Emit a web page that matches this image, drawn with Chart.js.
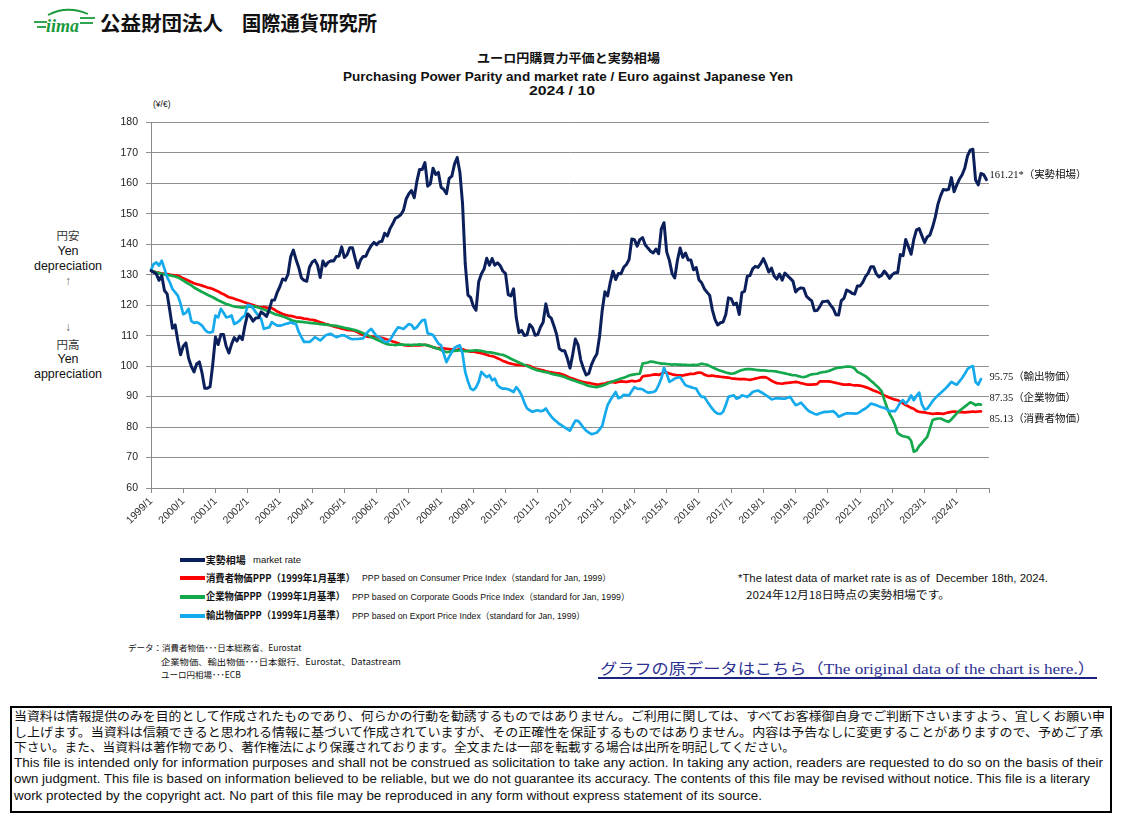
<!DOCTYPE html>
<html><head><meta charset="utf-8">
<script src="https://cdn.jsdelivr.net/npm/chart.js@4/dist/chart.umd.min.js"></script>
<style>
html,body{margin:0;padding:0;background:#fff;}
body{width:1123px;height:822px;position:relative;overflow:hidden;font-family:"Liberation Sans","Noto Sans CJK JP",sans-serif;color:#111;}
.t{position:absolute;white-space:nowrap;line-height:1;transform-origin:0 50%;}
.jp{font-family:"Noto Sans CJK JP",sans-serif;}
.c{position:absolute;left:8px;width:120px;text-align:center;white-space:nowrap;line-height:1;}
#chartWrap{position:absolute;left:0;top:108px;width:1123px;height:432px;}
.sw{position:absolute;left:180px;width:25px;height:4px;}
#box{position:absolute;left:10px;top:706px;width:1102px;height:107px;box-sizing:border-box;border:2px solid #000;}
</style></head>
<body>
<svg style="position:absolute;left:33px;top:4px" width="64" height="34" viewBox="0 0 64 34">
  <path d="M15 11 Q34 1 55 10" stroke="#1a9a3c" stroke-width="1.8" fill="none"/>
  <line x1="1" y1="18" x2="14" y2="18" stroke="#1a9a3c" stroke-width="1.8"/>
  <line x1="4" y1="23" x2="13" y2="23" stroke="#1a9a3c" stroke-width="1.8"/>
  <line x1="47" y1="14" x2="62" y2="14" stroke="#1a9a3c" stroke-width="1.8"/>
  <line x1="47" y1="19" x2="60" y2="19" stroke="#1a9a3c" stroke-width="1.8"/>
  <text x="13" y="28" font-family="Liberation Serif" font-style="italic" font-weight="bold" font-size="18" fill="#1a9a3c">iima</text>
</svg>
<div class="t jp" data-w="123" style="left:100px;top:13px;font-size:20px;font-weight:700;">公益財団法人</div>
<div class="t jp" data-w="135" style="left:241.7px;top:13px;font-size:20px;font-weight:700;">国際通貨研究所</div>

<div class="t jp" data-w="183" style="left:477px;top:52px;font-size:12.5px;font-weight:700;">ユーロ円購買力平価と実勢相場</div>
<div class="t" data-w="450" style="left:343px;top:69.5px;font-size:13.5px;font-weight:700;">Purchasing Power Parity and market rate / Euro against Japanese Yen</div>
<div class="t" data-w="66" style="left:529.3px;top:84.5px;font-size:12.5px;font-weight:700;">2024 / 10</div>

<div class="t" style="left:153px;top:99.5px;font-size:8.5px;">(¥/€)</div>

<div class="c jp" style="top:230px;font-size:11.5px;color:#333;">円安</div>
<div class="c" style="top:245px;font-size:12.5px;">Yen</div>
<div class="c" style="top:259.5px;font-size:12.5px;">depreciation</div>
<div class="c" style="top:274.5px;font-size:12px;color:#666;">↑</div>
<div class="c" style="top:320.5px;font-size:12px;color:#666;">↓</div>
<div class="c jp" style="top:338.5px;font-size:11.5px;color:#333;">円高</div>
<div class="c" style="top:353px;font-size:12.5px;">Yen</div>
<div class="c" style="top:367.5px;font-size:12.5px;">appreciation</div>

<div id="chartWrap"><canvas id="c" width="1123" height="432"></canvas></div>

<div class="sw" style="top:558.3px;background:#0b1f5b;"></div>
<div class="sw" style="top:576.3px;background:#ff0000;"></div>
<div class="sw" style="top:594.7px;background:#13a84b;"></div>
<div class="sw" style="top:613.7px;background:#14aaec;"></div>
<div class="t jp" data-w="40" style="left:205.7px;top:554.5px;font-size:10px;font-weight:700;">実勢相場</div>
<div class="t" data-w="48" style="left:253px;top:556px;font-size:9px;">market rate</div>
<div class="t jp" data-w="149" style="left:205.7px;top:572.5px;font-size:10px;font-weight:700;">消費者物価PPP（1999年1月基準）</div>
<div class="t" data-w="249" style="left:361.7px;top:574px;font-size:9px;">PPP based on Consumer Price Index（standard for Jan, 1999）</div>
<div class="t jp" data-w="139" style="left:205.7px;top:591px;font-size:10px;font-weight:700;">企業物価PPP（1999年1月基準）</div>
<div class="t" data-w="277.7" style="left:351.7px;top:592.5px;font-size:9px;">PPP based on Corporate Goods Price Index（standard for Jan, 1999）</div>
<div class="t jp" data-w="139" style="left:205.7px;top:610px;font-size:10px;font-weight:700;">輸出物価PPP（1999年1月基準）</div>
<div class="t" data-w="233" style="left:351.7px;top:611.5px;font-size:9px;">PPP based on Export Price Index（standard for Jan, 1999）</div>

<div class="t" data-w="310" style="left:738.3px;top:573px;font-size:10.5px;">*The latest data of market rate is as of&nbsp; December 18th, 2024.</div>
<div class="t jp" data-w="204" style="left:746px;top:589px;font-size:11px;">2024年12月18日時点の実勢相場です。</div>

<div class="t jp" style="left:128px;top:643px;font-size:8.5px;">データ：消費者物価･･･日本総務省、Eurostat</div>
<div class="t jp" data-w="240" style="left:161px;top:657px;font-size:8.5px;">企業物価、輸出物価･･･日本銀行、Eurostat、Datastream</div>
<div class="t jp" style="left:161px;top:670px;font-size:8.5px;">ユーロ円相場･･･ECB</div>

<div class="t" data-w="495" style="left:600px;top:661.5px;font-size:15px;font-family:'Liberation Serif','Noto Sans CJK JP',serif;color:#2e3192;">グラフの原データはこちら（The original data of the chart is here.）</div>
<div style="position:absolute;left:598px;top:676.5px;width:499px;height:2px;background:#1a237e;"></div>

<div id="box"></div>
<div class="t jp" data-w="1091" style="left:14px;top:709.5px;font-size:12.5px;">当資料は情報提供のみを目的として作成されたものであり、何らかの行動を勧誘するものではありません。ご利用に関しては、すべてお客様御自身でご判断下さいますよう、宜しくお願い申</div>
<div class="t jp" data-w="1089" style="left:14px;top:725.5px;font-size:12.5px;">し上げます。当資料は信頼できると思われる情報に基づいて作成されていますが、その正確性を保証するものではありません。内容は予告なしに変更することがありますので、予めご了承</div>
<div class="t jp" data-w="781" style="left:14px;top:740.5px;font-size:12.5px;">下さい。また、当資料は著作物であり、著作権法により保護されております。全文または一部を転載する場合は出所を明記してください。</div>
<div class="t" data-w="1089" style="left:14px;top:757px;font-size:12px;">This file is intended only for information purposes and shall not be construed as solicitation to take any action. In taking any action, readers are requested to do so on the basis of their</div>
<div class="t" data-w="1076" style="left:14px;top:773px;font-size:12px;">own judgment. This file is based on information believed to be reliable, but we do not guarantee its accuracy. The contents of this file may be revised without notice. This file is a literary</div>
<div class="t" data-w="748" style="left:14px;top:790px;font-size:12px;">work protected by the copyright act. No part of this file may be reproduced in any form without express statement of its source.</div>

<script>
// ---- data ----
const startYear = 1999;
const monthCount = 313; // 1999/1 .. 2025/1 (axis end)
const yTickMin = 60, yTickMax = 180, yTickStep = 10;

const marketRate = [
131.32,130.78,130.20,128.16,129.71,124.81,123.71,118.21,112.41,113.50,108.25,103.72,
106.53,107.64,102.59,99.92,98.09,100.70,101.39,97.77,92.74,92.72,93.26,100.61,
109.57,107.08,110.33,110.36,106.50,104.30,107.21,109.34,108.20,109.86,108.68,113.38,
117.12,116.23,114.75,115.81,115.86,117.80,117.11,116.31,118.38,121.57,121.65,124.20,
126.12,128.60,128.16,130.12,135.83,138.05,134.99,132.38,128.94,128.12,127.84,132.43,
134.13,134.78,133.13,129.08,134.48,132.86,134.08,134.54,134.51,135.97,136.09,139.14,
135.63,136.55,138.83,138.84,135.37,132.22,134.75,135.98,136.06,138.05,139.59,140.58,
139.82,140.77,140.96,143.59,142.70,145.11,146.70,148.53,148.99,149.65,151.11,154.82,
156.56,157.60,155.24,160.68,164.55,164.55,166.76,159.05,159.82,164.95,162.89,163.55,
158.68,157.97,156.59,161.56,162.31,166.26,168.45,163.63,153.20,133.52,123.28,122.51,
119.73,118.30,127.65,130.25,131.85,135.39,133.09,135.31,133.14,133.91,132.97,131.21,
130.34,123.46,123.03,125.33,115.83,110.99,111.73,110.04,110.26,113.67,112.69,110.11,
110.38,112.77,114.40,120.42,116.47,115.75,113.26,110.43,105.75,105.06,105.02,102.55,
99.33,103.77,108.88,107.00,101.97,99.26,97.07,97.58,100.49,102.47,103.94,109.71,
118.34,124.40,122.99,127.54,131.13,128.40,130.39,130.34,132.41,133.32,134.97,141.68,
141.47,139.35,141.48,142.18,139.81,138.72,137.72,137.11,138.39,136.85,145.03,147.06,
137.47,134.69,130.41,128.94,134.75,138.74,135.68,137.12,134.85,134.84,131.60,132.36,
128.32,127.35,125.39,124.29,123.21,118.45,115.25,113.49,114.22,114.47,116.93,122.39,
122.14,120.17,120.68,116.93,124.09,124.58,129.48,129.70,131.92,132.76,132.39,133.64,
135.25,133.29,130.86,132.16,129.57,128.53,130.23,128.20,130.54,129.62,128.79,127.88,
124.34,125.28,125.67,125.44,122.97,122.08,121.41,118.18,118.24,119.51,121.10,121.24,
121.36,120.03,118.90,116.86,116.78,121.45,122.22,124.97,124.54,123.89,123.61,126.28,
126.31,127.49,129.38,130.49,132.57,132.63,130.35,129.28,129.77,131.21,130.12,128.80,
130.01,130.66,130.71,136.61,136.24,141.57,139.17,136.71,141.57,144.73,145.12,142.82,
140.54,142.38,143.00,145.62,148.87,153.15,155.94,157.96,157.80,158.04,161.84,157.21,
159.46,161.38,162.77,165.03,168.98,170.87,171.17,161.05,159.48,163.20,162.85,161.21
];

const cpiPPP = [
131.3,131.0,130.8,130.6,130.4,130.3,130.2,130.0,129.9,129.8,129.6,129.3,
128.8,128.4,128.0,127.6,127.2,126.9,126.7,126.4,126.1,125.8,125.6,125.3,
124.9,124.5,124.0,123.6,123.1,122.6,122.4,122.1,121.8,121.5,121.2,120.9,
120.6,120.3,120.0,119.7,119.4,119.3,119.4,119.2,119.1,119.0,118.5,117.9,
117.5,117.1,116.8,116.6,116.5,116.3,116.0,115.9,115.8,115.6,115.5,115.3,
115.2,115.0,114.7,114.4,114.1,113.8,113.6,113.3,113.0,112.8,112.6,112.3,
112.1,111.9,111.8,111.7,111.5,111.1,110.6,110.2,109.8,109.6,109.7,109.6,
109.5,109.4,109.3,109.0,108.7,108.4,108.1,107.8,107.5,107.2,106.9,106.8,
106.7,106.8,106.9,106.8,106.8,106.9,107.0,106.8,106.5,106.2,106.0,105.9,
105.9,105.8,105.7,105.6,105.5,105.3,105.2,105.7,105.5,105.2,105.0,104.7,
104.8,104.6,104.4,104.2,104.0,103.7,103.4,103.3,103.0,102.6,102.2,101.7,
101.4,101.0,100.8,100.6,100.4,100.4,100.3,100.1,100.3,100.0,99.6,99.2,
99.0,98.8,98.6,98.3,98.1,98.0,97.8,97.6,97.6,97.3,97.0,96.6,
96.2,95.9,95.6,95.3,95.0,94.8,94.6,94.5,94.3,94.1,93.9,94.0,
94.2,94.3,94.6,94.8,94.7,94.6,94.8,95.0,94.9,94.8,95.0,95.2,
95.0,95.1,95.3,96.6,96.8,96.9,97.0,97.2,97.3,97.1,97.5,98.0,
97.9,97.6,97.3,97.1,97.0,97.0,96.9,97.1,97.3,97.5,97.4,97.7,
97.9,97.8,97.2,96.9,96.8,96.9,96.7,96.6,96.5,96.4,96.3,96.2,
96.0,95.9,95.8,95.7,95.7,95.7,95.6,95.5,95.7,95.9,96.1,96.3,
96.4,96.3,95.8,95.2,94.8,94.4,94.3,94.2,94.4,94.5,94.6,94.7,
94.8,94.7,94.4,94.2,94.0,93.9,93.9,94.0,94.1,95.0,95.0,95.0,
95.0,94.9,94.7,94.5,94.3,94.1,93.9,93.9,94.0,93.8,93.7,93.7,
93.6,93.4,93.1,92.8,92.4,92.0,91.7,91.3,90.9,90.4,90.0,89.6,
89.3,89.0,88.8,88.4,87.8,87.2,86.8,86.3,86.0,85.3,85.0,84.9,
84.8,84.6,84.5,84.3,84.4,84.5,84.4,84.3,84.6,84.8,85.0,85.1,
85.0,84.9,84.9,84.8,84.9,85.0,85.1,85.0,85.1,85.13
];

const cgpiPPP = [
131.3,131.0,130.7,130.5,130.3,130.1,129.9,129.8,129.6,129.4,129.1,128.6,
128.1,127.5,127.0,126.5,125.8,125.3,124.8,124.3,123.9,123.4,123.0,122.6,
122.1,121.6,121.2,120.8,120.4,120.1,119.8,119.6,119.4,119.3,119.2,119.3,
119.4,119.5,119.6,119.5,119.2,118.9,118.6,118.2,117.9,117.5,117.1,116.8,
116.6,116.3,116.0,115.6,115.2,114.9,114.7,114.6,114.5,114.4,114.3,114.2,
114.1,114.0,113.9,113.8,113.7,113.6,113.5,113.4,113.3,113.2,113.0,112.8,
112.6,112.4,112.2,112.0,111.8,111.5,111.2,110.8,110.4,110.0,109.5,109.1,
108.7,108.3,107.9,107.5,107.2,107.0,107.0,106.9,107.0,107.1,107.0,107.0,
107.0,106.9,107.0,107.0,107.1,107.0,107.0,106.8,106.5,106.2,105.9,105.7,
105.3,104.9,104.6,104.7,104.9,105.0,105.1,105.2,105.0,104.9,104.9,105.0,
105.1,105.2,105.1,105.0,104.8,104.6,104.5,104.4,104.2,104.0,103.8,103.7,
103.3,102.9,102.4,102.0,101.6,101.2,100.8,100.4,100.0,99.6,99.2,98.9,
98.6,98.4,98.2,98.0,97.8,97.5,97.3,97.1,96.9,96.7,96.4,96.0,
95.7,95.4,95.1,94.8,94.5,94.2,93.8,93.5,93.3,93.2,93.1,93.3,
93.6,93.9,94.3,94.7,95.0,95.3,95.6,95.9,96.2,96.5,96.9,97.1,
97.3,97.4,97.5,100.8,101.0,101.2,101.5,101.4,101.2,101.0,100.8,100.8,
100.7,100.6,100.5,100.6,100.5,100.5,100.4,100.4,100.3,100.3,100.4,100.3,
100.5,100.8,100.6,100.5,100.0,99.6,99.2,98.8,98.5,98.2,97.9,97.7,
97.5,97.6,98.0,98.4,98.7,98.9,99.0,99.0,98.9,98.8,98.7,98.6,
98.6,98.5,98.4,98.4,98.3,98.2,98.0,97.8,97.6,97.4,97.2,97.0,
97.0,96.7,96.5,96.4,96.6,97.0,97.3,97.4,97.5,97.8,98.0,98.1,
98.3,98.6,99.0,99.3,99.5,99.6,99.7,99.8,99.8,99.7,99.2,98.1,
97.7,97.2,96.7,96.0,95.2,94.5,93.6,92.8,91.8,89.0,86.5,84.3,
82.8,80.7,78.0,77.4,77.0,76.8,76.6,75.5,71.9,72.3,73.8,74.7,
75.8,76.8,79.5,82.3,82.6,82.8,82.8,82.4,82.0,81.7,82.5,83.5,
84.5,85.3,86.0,86.7,87.4,88.1,87.8,87.2,87.5,87.35
];

const exportPPP = [
131.5,133.5,134.0,133.0,134.6,132.0,129.2,127.5,125.3,124.2,123.1,120.5,
117.0,117.5,118.8,114.8,114.2,114.4,114.0,113.3,112.0,111.2,111.0,111.3,
116.6,116.0,118.8,117.5,116.0,116.2,116.6,113.8,114.3,114.9,116.0,116.6,
120.1,119.9,119.0,117.7,116.5,115.5,112.2,112.5,112.7,114.4,113.8,113.3,
113.3,113.5,113.8,114.0,114.4,114.0,113.8,111.2,109.5,107.9,108.0,107.9,
108.6,109.5,109.0,108.4,109.2,110.1,110.4,110.6,110.0,109.5,109.8,110.1,
110.1,109.6,109.1,108.8,108.9,108.9,109.0,109.1,110.5,111.5,112.2,111.0,
109.8,109.5,108.8,108.0,107.9,108.5,110.1,111.5,112.7,112.5,112.2,113.0,
113.8,113.5,112.2,112.8,114.0,115.0,115.2,110.8,110.5,110.2,108.8,107.4,
106.8,104.0,101.3,103.0,104.6,106.0,106.5,106.8,104.0,98.0,95.0,92.6,
92.1,93.0,94.8,98.1,97.2,96.4,97.0,95.3,95.9,93.7,93.0,92.6,
92.6,92.4,92.0,91.5,93.1,92.0,90.4,88.0,86.1,85.5,85.0,85.3,
85.5,85.2,85.4,86.1,84.7,83.5,82.5,81.8,81.0,80.5,79.9,79.3,
78.8,80.5,82.1,82.0,81.0,79.8,78.8,78.2,77.7,77.9,78.2,79.2,
80.4,84.0,87.2,88.8,90.2,91.5,89.5,89.8,90.6,90.5,90.4,91.8,
93.1,92.6,92.5,92.4,91.8,91.3,91.4,91.5,92.0,93.8,95.9,99.4,
97.5,94.8,95.3,95.9,96.2,96.4,95.0,93.7,93.4,93.1,92.8,92.6,
91.0,89.9,89.9,88.5,87.2,86.0,85.0,84.4,84.3,85.0,87.2,89.9,
90.2,90.4,89.3,89.6,90.4,90.2,89.9,90.6,91.5,91.8,92.0,91.5,
91.0,90.4,89.8,89.1,89.3,89.5,89.4,89.3,89.3,89.6,89.9,88.5,
87.2,87.5,88.0,87.0,86.0,85.2,84.8,84.3,84.1,84.5,84.8,85.0,
85.0,85.1,85.2,84.5,83.4,83.8,84.2,84.5,84.5,84.5,84.4,84.5,
85.0,85.6,86.1,86.8,87.7,87.5,87.2,86.8,86.5,86.3,85.8,85.2,
85.2,85.2,86.5,88.2,88.8,87.7,88.8,90.4,88.8,90.2,91.3,87.5,
85.8,86.0,87.2,88.5,89.5,90.4,91.2,92.0,92.8,93.8,94.8,94.3,
93.9,95.0,96.1,97.5,99.0,99.7,100.0,94.8,93.9,95.75
];

const seriesNames = ['実勢相場', '消費者物価', '企業物価', '輸出物価'];

// category labels (months)
const monthLabels = [];
for (let i = 0; i < monthCount; i++) {
  monthLabels.push((startYear + Math.floor(i / 12)) + '/' + (i % 12 + 1));
}

const endLabels = {
  id: 'endLabels',
  afterDatasetsDraw(chart) {
    const {ctx, chartArea, scales} = chart;
    ctx.save();
    ctx.font = '10.5px "Liberation Serif", "Noto Sans CJK JP", serif';
    ctx.fillStyle = '#111';
    ctx.textBaseline = 'middle';
    ctx.textAlign = 'left';
    chart.data.datasets.forEach(ds => {
      const v = ds.data[ds.data.length - 1];
      const y = scales.y.getPixelForValue(v) + ds.endOffset;
      ctx.fillText(v.toFixed(2) + ds.endSuffix, chartArea.right + 0.5, y);
    });
    ctx.restore();
  }
};

const tickFont = {family: '"Liberation Sans", sans-serif', size: 10.5};

new Chart(document.getElementById('c'), {
  type: 'line',
  data: {
    labels: monthLabels,
    datasets: [
      {label: seriesNames[0], data: marketRate, borderColor: '#0b1f5b', borderWidth: 3, order: 1, endSuffix: '*（実勢相場）', endOffset: -4.5},
      {label: seriesNames[1], data: cpiPPP, borderColor: '#ff0000', borderWidth: 2.7, order: 4, endSuffix: '（消費者物価）', endOffset: 8},
      {label: seriesNames[2], data: cgpiPPP, borderColor: '#13a84b', borderWidth: 2.7, order: 3, endSuffix: '（企業物価）', endOffset: -6},
      {label: seriesNames[3], data: exportPPP, borderColor: '#14aaec', borderWidth: 2.7, order: 2, endSuffix: '（輸出物価）', endOffset: -2}
    ]
  },
  options: {
    responsive: false,
    animation: false,
    events: [],
    layout: {padding: {top: 9, right: 134, bottom: 0, left: 0}},
    elements: {point: {radius: 0}, line: {tension: 0, borderJoinStyle: 'round', borderCapStyle: 'round'}},
    plugins: {legend: {display: false}, tooltip: {enabled: false}},
    scales: {
      x: {
        type: 'category',
        offset: false,
        border: {display: true, color: '#8a8a8a', width: 1},
        grid: {
          drawOnChartArea: false,
          drawTicks: true,
          tickLength: 5,
          color: ctx => (ctx.index % 12 === 0 ? '#8a8a8a' : 'rgba(0,0,0,0)')
        },
        ticks: {
          autoSkip: false,
          maxRotation: 45,
          minRotation: 45,
          padding: 2,
          color: '#333',
          font: {family: '"Liberation Sans", sans-serif', size: 10.5},
          callback: function (v, i) {
            return (i % 12 === 0 && i < monthCount - 1) ? this.getLabelForValue(v) : '';
          }
        },
        afterFit: s => { s.height = 52; }
      },
      y: {
        min: yTickMin,
        max: yTickMax,
        border: {display: true, color: '#8a8a8a', width: 1},
        grid: {color: '#8f8f8f', lineWidth: 1, tickLength: 5},
        ticks: {stepSize: yTickStep, padding: 8, color: '#222', font: tickFont},
        afterFit: s => { s.width = 151; }
      }
    }
  },
  plugins: [endLabels]
});

function fitText() {
  document.querySelectorAll('[data-w]').forEach(el => {
    el.style.transform = 'none';
    const w = el.getBoundingClientRect().width;
    const t = parseFloat(el.dataset.w);
    if (w > 0) el.style.transform = 'scaleX(' + (t / w) + ')';
  });
}
fitText();
if (document.fonts && document.fonts.ready) document.fonts.ready.then(fitText);
</script>
</body></html>
